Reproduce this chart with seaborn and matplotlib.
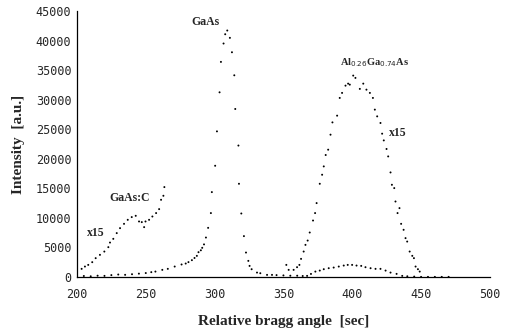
import matplotlib
matplotlib.use("Agg")
import matplotlib.pyplot as plt
import seaborn as sns
import pandas as pd

# ---- data ----
main_x = [200, 205, 210, 215, 220, 225, 230, 235, 240, 245, 250, 254, 257, 262, 266, 271,
          276, 279, 281, 283.5, 285.4, 287.1, 288.3, 290, 291, 292.3, 293.7, 295.3, 297.3,
          298, 300.4, 301.7, 303.6, 304.6, 306.5, 307.7, 309.2, 311.1, 312.6, 314.3, 315,
          317.3, 317.7, 319.4, 321.3, 322.8, 324.5, 325.4, 326.9, 330.8, 333.2, 338.1, 341.7,
          345, 350, 355, 360, 364, 367.2, 370, 373.2, 376.4, 379.3, 382.9, 386.5, 390.2, 393.8,
          396.7, 399.9, 403.1, 406.5, 409.6, 413.3, 416.9, 420.5, 424.2, 427.8, 432.2, 436.3,
          440, 445, 450, 455, 460, 465, 470]
main_y = [100, 150, 100, 200, 170, 300, 400, 350, 450, 550, 650, 800, 900, 1190, 1360, 1750,
          2100, 2260, 2500, 2830, 3200, 3560, 4180, 4500, 4920, 5500, 6660, 8300, 10800,
          14350, 18810, 24630, 31240, 36390, 39500, 41070, 41700, 40460, 38020, 34120, 28420,
          22230, 15760, 10730, 6900, 4120, 2710, 1860, 1300, 730, 620, 340, 340,
          300, 250, 200, 200, 150, 170, 500, 900, 1070, 1300, 1470, 1580, 1750, 1920,
          2030, 2030, 1920, 1860, 1640, 1470, 1360, 1360, 1070, 730, 510, 170,
          100, 50, 0, 0, 0, 0, 0]

gaasc_x = [203.4, 205.8, 208.2, 211.1, 213.6, 216.7, 219.9, 222.8, 224, 226.4, 228.9, 231.3,
           234.2, 236.9, 239.8, 242.7, 245.1, 247.1, 248.8, 249.8, 252.4, 254.8, 257.5, 259.7,
           261.1, 262.8, 263.5]
gaasc_y = [1360, 1750, 2030, 2490, 3170, 3730, 4290, 5030, 5810, 6440, 7410, 8250,
           8980, 9660, 10120, 10340, 9380, 9270, 8420, 9380, 9660, 10220, 10800, 11470,
           13050, 13730, 15200]

algaas_x = [352.1, 353.8, 357.4, 359.9, 361.6, 362.8, 364.7, 366, 367.6, 369.1, 371.5, 373,
            374.1, 376.4, 378.1, 379.3, 380.7, 382.5, 384.2, 385.6, 389, 390.9, 392.6, 395.1,
            397, 398.2, 400.7, 402.3, 405.5, 408, 410.3, 412.8, 415, 416.4, 418.1, 420.5,
            421.7, 422.9, 424.9, 426.1, 427.8, 428.8, 430.5, 431.4, 432.9, 434.3, 435.5, 437.3,
            438.7, 439.9, 441.7, 443.6, 444.8, 446, 447.7, 449]
algaas_y = [2030, 1190, 1190, 1640, 2030, 3050, 4290, 5420, 6150, 7510, 9540, 10800,
            12490, 15760, 17290, 18700, 20630, 21530, 24070, 26150, 27290, 30290, 31140, 32370,
            32710, 32540, 34070, 33680, 31820, 32710, 31690, 31140, 30290, 28310, 27170, 26050,
            24240, 23100, 21650, 20390, 17680, 15590, 15030, 12760, 10800, 11640, 8980, 7970,
            6560, 5980, 4290, 3560, 3170, 1750, 1300, 900]

x_ticks = [200, 250, 300, 350, 400, 450, 500]
y_ticks = [0, 5000, 10000, 15000, 20000, 25000, 30000, 35000, 40000, 45000]

df = pd.concat([
    pd.DataFrame({"angle": main_x, "intensity": main_y, "series": "main"}),
    pd.DataFrame({"angle": gaasc_x, "intensity": gaasc_y, "series": "GaAs:C x15"}),
    pd.DataFrame({"angle": algaas_x, "intensity": algaas_y, "series": "AlGaAs x15"}),
], ignore_index=True)

sns.set_style("white")
fig = plt.figure(figsize=(5.13, 3.34), dpi=100)
ax = fig.add_axes([0.150, 0.171, 0.805, 0.796])

sns.scatterplot(data=df, x="angle", y="intensity", hue="series",
                palette=["black", "black", "black"], s=2, linewidth=0,
                legend=False, ax=ax)

ax.set_xlim(200, 500)
ax.set_ylim(0, 45000)
ax.set_xticks(x_ticks)
ax.set_yticks(y_ticks)
mono = "DejaVu Sans Mono"
ax.set_xticklabels([str(t) for t in x_ticks], family=mono, fontsize=8.5)
ax.set_yticklabels([str(t) for t in y_ticks], family=mono, fontsize=8.5)
ax.tick_params(axis="both", direction="inout", length=4, width=0.8, color="black")
ax.tick_params(axis="x", pad=6)
ax.tick_params(axis="y", pad=2)

for s in ["top", "right"]:
    ax.spines[s].set_visible(False)
for s in ["left", "bottom"]:
    ax.spines[s].set_color("black")
    ax.spines[s].set_linewidth(0.9)

serif = "Liberation Serif"
ax.set_xlabel("Relative bragg angle  [sec]", family=serif, fontweight="bold",
              fontsize=11, labelpad=10)
ax.set_ylabel("Intensity  [a.u.]", family=serif, fontweight="bold", fontsize=11,
              labelpad=8)

tk = dict(family=serif, fontweight="bold", fontsize=8.5, ha="center", va="center")
ax.text(293, 43200, "GaAs", **tk)
ax.text(238, 13400, "GaAs:C", **tk)
ax.text(214, 7450, "x15", **tk)
ax.text(433, 24300, "x15", **tk)
ax.text(416.5, 36200, r"Al$_{0.26}$Ga$_{0.74}$As", family=serif, fontweight="bold",
        fontsize=7.5, ha="center", va="center")

fig.savefig("out.png", dpi=100)
